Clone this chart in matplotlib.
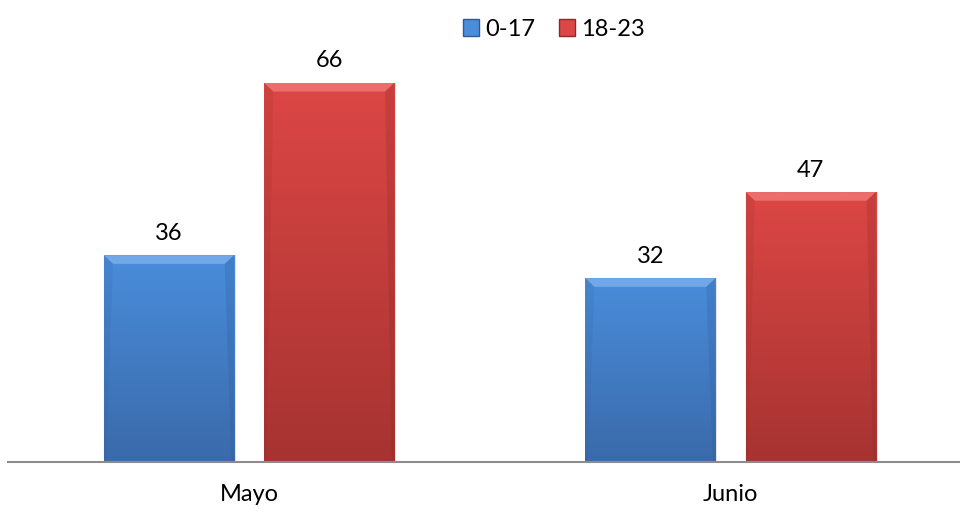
import numpy as np
from matplotlib import pyplot as plt
from matplotlib.patches import Polygon, Patch
from matplotlib.colors import LinearSegmentedColormap

plt.rcParams['font.family'] = ['Lato', 'DejaVu Sans']

# data
categories = ["Mayo", "Junio"]
series_names = ["0-17", "18-23"]
values_0_17 = [36, 32]
values_18_23 = [66, 47]

# colours: top / bottom of gradient, bevel highlight
blue = {"top": "#4a8ddb", "bottom": "#3a6aaa", "bevel": "#7fb2ee", "edge": "#2f5b95"}
red = {"top": "#dc4745", "bottom": "#a63331", "bevel": "#f27c7a", "edge": "#8c2a29"}

fig = plt.figure(figsize=(9.6, 5.1), dpi=100)
ax = fig.add_axes([8 / 960, 47 / 510, 952 / 960, 402 / 510])

x = np.arange(len(categories))
width = 0.27
offset = 0.1665
fs = 17


def fancy_bars(xpos, vals, col):
    bars = ax.bar(xpos, vals, width, color=col["top"], edgecolor="none", zorder=2)
    cmap = LinearSegmentedColormap.from_list("g", [col["bottom"], col["top"]])
    grad = np.linspace(0, 1, 256).reshape(-1, 1)
    for b in bars:
        x0, y0 = b.get_x(), b.get_y()
        w, h = b.get_width(), b.get_height()
        # soft shadow to the right
        ax.bar(x0 + w / 2 + 0.004, h, w, bottom=y0, color="#000000", alpha=0.10,
               edgecolor="none", zorder=1)
        im = ax.imshow(grad, extent=[x0, x0 + w, y0, y0 + h], origin="lower",
                       cmap=cmap, aspect="auto", zorder=3)
        im.set_clip_path(b)
        # bevel on top
        bh = 1.5
        bx = 0.019
        ax.add_patch(Polygon([[x0, y0 + h], [x0 + w, y0 + h], [x0 + w - bx, y0 + h - bh],
                              [x0 + bx, y0 + h - bh]], closed=True,
                             facecolor=col["bevel"], edgecolor="none", alpha=0.75, zorder=4))
        # subtle side bevels
        ax.add_patch(Polygon([[x0 + w, y0 + h], [x0 + w, y0], [x0 + w - 0.005, y0],
                              [x0 + w - bx, y0 + h - bh]], closed=True,
                             facecolor=col["edge"], edgecolor="none", alpha=0.25, zorder=4))
        ax.add_patch(Polygon([[x0, y0 + h], [x0, y0], [x0 + 0.005, y0],
                              [x0 + bx, y0 + h - bh]], closed=True,
                             facecolor=col["edge"], edgecolor="none", alpha=0.15, zorder=4))
        ax.annotate(str(int(h)), (x0 + w / 2, y0 + h), xytext=(0, 9),
                    textcoords="offset points", ha="center", va="bottom",
                    fontsize=fs, color="#000000")
    return bars


fancy_bars(x - offset, values_0_17, blue)
fancy_bars(x + offset, values_18_23, red)

ax.set_xlim(-0.5005, 1.4766)
ax.set_ylim(0, 70)
ax.set_xticks(x)
ax.set_xticklabels(categories, fontsize=fs)
ax.tick_params(axis="x", length=0, pad=15)
ax.set_yticks([])
for s in ["top", "right", "left"]:
    ax.spines[s].set_visible(False)
ax.spines["bottom"].set_color("#8c8c8c")
ax.spines["bottom"].set_linewidth(1.5)
ax.spines["bottom"].set_zorder(5)

handles = [Patch(facecolor=blue["top"], edgecolor=blue["edge"]),
           Patch(facecolor=red["top"], edgecolor=red["edge"])]
fig.legend(handles, series_names, loc="center", bbox_to_anchor=(554 / 960, 1 - 30 / 510),
           ncol=2, frameon=False, fontsize=fs, handlelength=0.7, handleheight=0.7,
           handletextpad=0.25, columnspacing=1.0)

plt.savefig("out.png", dpi=100)
